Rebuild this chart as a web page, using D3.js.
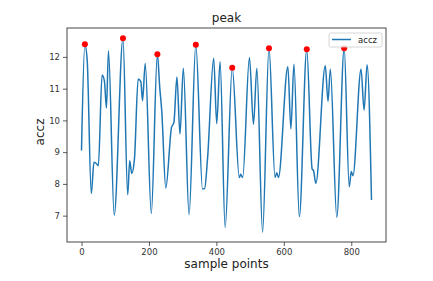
<!DOCTYPE html>
<html>
<head>
<meta charset="utf-8">
<script src="https://cdn.jsdelivr.net/npm/d3@7"></script>
<style>
  html, body { margin:0; padding:0; background:#fff; }
  svg { display:block; font-family:"DejaVu Sans", sans-serif; }
</style>
</head>
<body>
<svg id="chart" width="433" height="281"></svg>
<script>
(function(){

const WIDTH = 433, HEIGHT = 281;

// accz signal at turning points
const sampleX = [0, 10, 17, 29, 37, 43, 50, 61, 68, 74, 80, 97, 123, 137, 143, 149, 157, 168, 176, 181, 189, 207,
  225, 232, 238, 250, 267, 274, 283, 292, 302, 319, 339, 359, 365, 374, 392, 401, 411, 426, 447, 468, 472, 478,
  498, 510, 520, 537, 556, 574, 579, 584, 612, 621, 630, 646, 668, 684, 688, 695, 723, 731, 738, 757, 779,
  794, 800, 805, 829, 838, 847, 860];
const acczValues = [9.05, 12.4, 11.87, 7.7, 8.68, 8.65, 8.57, 11.43, 11.24, 10.39, 12.19, 7.02, 12.59, 7.66, 8.73, 8.33, 8.78, 11.3, 11.22, 10.62, 11.79, 7.07,
  12.08, 11.04, 10.3, 7.87, 9.78, 9.93, 11.37, 9.57, 11.64, 7.03, 12.38, 7.84, 7.85, 8.83, 11.96, 9.9, 11.85, 6.63, 11.66, 8.2, 8.3, 8.2,
  11.98, 9.88, 11.64, 6.48, 12.27, 8.2, 8.35, 8.2, 11.69, 9.73, 11.77, 6.97, 12.24, 8.47, 8.42, 8.02, 11.72, 10.6, 11.61, 6.95, 12.27,
  7.91, 8.39, 8.26, 11.61, 10.32, 11.75, 7.49];

// detected peaks (red dots)
const peakX = [10, 123, 225, 339, 447, 556, 668, 779];
const peakY = [12.4, 12.59, 12.08, 12.38, 11.66, 12.27, 12.24, 12.27];

const xTicks = [0, 200, 400, 600, 800];
const yTicks = [7, 8, 9, 10, 11, 12];

const plot = {left:67, right:386, top:28, bottom:242};

const x = d3.scaleLinear().domain([-43, 903]).range([plot.left, plot.right]);
const y = d3.scaleLinear().domain([6.17, 12.91]).range([plot.bottom, plot.top]);

const svg = d3.select('#chart');

const series = sampleX.map((v,i) => ({x:v, y:acczValues[i]}));
const peaks = peakX.map((v,i) => ({x:v, y:peakY[i]}));

const line = d3.line()
  .x(d => x(d.x))
  .y(d => y(d.y))
  .curve(d3.curveMonotoneX);

svg.append('path')
  .datum(series)
  .attr('d', line)
  .attr('fill','none')
  .attr('stroke','#1f77b4')
  .attr('stroke-width',1.5)
  .attr('stroke-linejoin','round');

svg.selectAll('circle.peak')
  .data(peaks)
  .join('circle')
  .attr('class','peak')
  .attr('cx', d => x(d.x))
  .attr('cy', d => y(d.y))
  .attr('r', 3)
  .attr('fill','#ff0000');

// axes
const xAxis = d3.axisBottom(x).tickValues(xTicks).tickFormat(d3.format('d')).tickSize(4).tickPadding(3);
const yAxis = d3.axisLeft(y).tickValues(yTicks).tickFormat(d3.format('d')).tickSize(4).tickPadding(3);

const gx = svg.append('g').attr('transform', `translate(0,${plot.bottom})`).call(xAxis);
const gy = svg.append('g').attr('transform', `translate(${plot.left},0)`).call(yAxis);
[gx, gy].forEach(g => {
  g.select('.domain').remove();
  g.selectAll('line').attr('stroke','#333').attr('stroke-width',0.8);
  g.selectAll('text').attr('font-size','8.5px').attr('fill','#333')
    .attr('font-family','"DejaVu Sans", sans-serif');
});

// frame
svg.append('rect')
  .attr('x', plot.left).attr('y', plot.top)
  .attr('width', plot.right-plot.left).attr('height', plot.bottom-plot.top)
  .attr('fill','none').attr('stroke','#333').attr('stroke-width',0.9);

// labels
const cx = (plot.left+plot.right)/2;
svg.append('text').attr('x', cx).attr('y', 22).attr('text-anchor','middle')
  .attr('font-size','12px').attr('fill','#222').text('peak');
svg.append('text').attr('x', cx).attr('y', 268).attr('text-anchor','middle')
  .attr('font-size','12px').attr('fill','#222').text('sample points');
svg.append('text').attr('transform','translate(44,132) rotate(-90)').attr('text-anchor','middle')
  .attr('font-size','12px').attr('fill','#222').text('accz');

// legend
const lg = svg.append('g').attr('transform','translate(329,33)');
lg.append('rect').attr('width',53).attr('height',14).attr('rx',2)
  .attr('fill','#fff').attr('fill-opacity',0.8).attr('stroke','#ccc').attr('stroke-width',0.8);
lg.append('line').attr('x1',3).attr('x2',22).attr('y1',6.5).attr('y2',6.5)
  .attr('stroke','#1f77b4').attr('stroke-width',1.5);
lg.append('text').attr('x',29).attr('y',9.8).attr('font-size','8.5px').attr('fill','#222').text('accz');

})();
</script>
</body>
</html>
